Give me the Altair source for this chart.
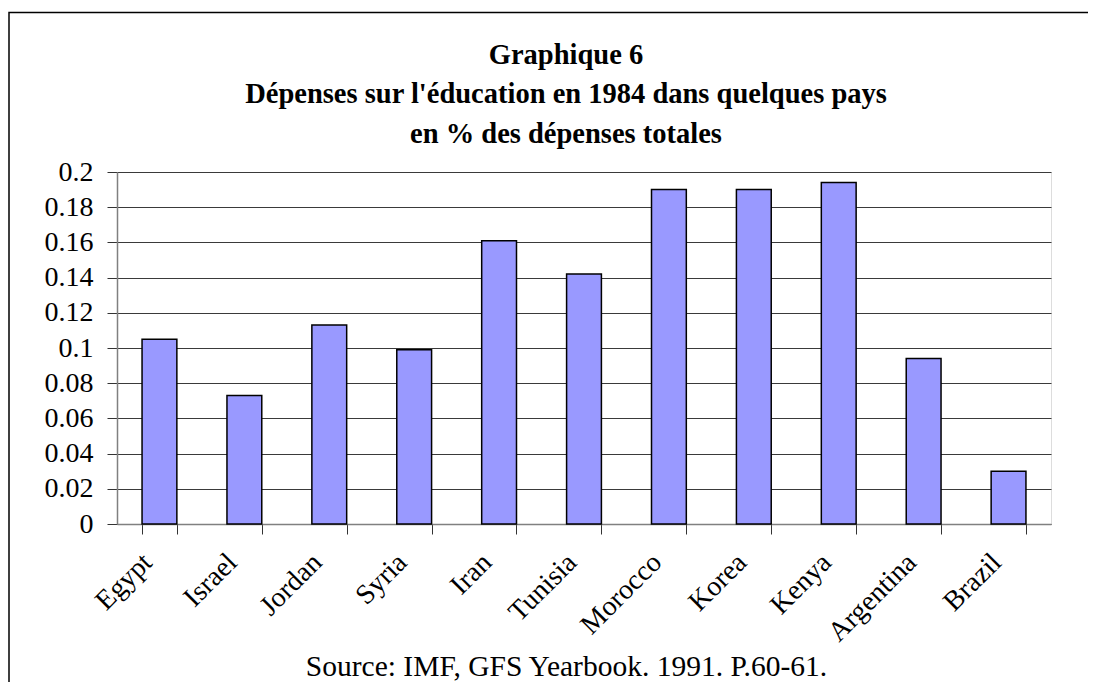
import altair as alt
import pandas as pd

countries = ["Egypt", "Israel", "Jordan", "Syria", "Iran", "Tunisia",
             "Morocco", "Korea", "Kenya", "Argentina", "Brazil"]
values = [0.105, 0.073, 0.113, 0.099, 0.161, 0.142, 0.190, 0.190, 0.194, 0.094, 0.030]
y_ticks = [0, 0.02, 0.04, 0.06, 0.08, 0.1, 0.12, 0.14, 0.16, 0.18, 0.2]

title_lines = ["Graphique 6",
               "Dépenses sur l'éducation en 1984 dans quelques pays",
               "en % des dépenses totales"]
source_text = "Source: IMF, GFS Yearbook. 1991. P.60-61."

df = pd.DataFrame({"country": countries, "value": values})
one = pd.DataFrame({"a": [0]})
FONT = "Liberation Serif, Times New Roman, serif"

bars = alt.Chart(df).mark_bar(
    color="#9999FF", stroke="#000000", strokeWidth=1.5
).encode(
    x=alt.X("country:N", sort=countries,
            scale=alt.Scale(paddingInner=0.59, paddingOuter=0.295),
            axis=alt.Axis(title=source_text, labelAngle=-45, labelAlign="right",
                          labelBaseline="middle",
                          labelFont=FONT, labelFontSize=28, labelColor="#000000",
                          labelPadding=24, labelOffset=-12,
                          tickBand="extent", tickSize=10, tickColor="#333333",
                          domainColor="#808080", domainWidth=1.5,
                          titleFont=FONT, titleFontSize=29.5, titleFontWeight="normal",
                          titleColor="#000000", titleX=449, titleY=151,
                          titleAlign="center", titleBaseline="alphabetic",
                          grid=False)),
    y=alt.Y("value:Q",
            scale=alt.Scale(domain=[0, 0.2], nice=False),
            axis=alt.Axis(title=None, values=y_ticks, format="~g",
                          labelFont=FONT, labelFontSize=28, labelColor="#000000",
                          labelPadding=14, tickSize=10, tickColor="#333333",
                          domainColor="#808080", domainWidth=1.5,
                          grid=True, gridColor="#3a3a3a", gridWidth=1)),
)

frame = alt.Chart(one).mark_rect(
    fill=None, stroke="#000000", strokeWidth=1.5
).encode(
    x=alt.value(-108), x2=alt.value(1000),
    y=alt.value(-159.5), y2=alt.value(600),
)

title_y = [-108, -69, -29]
title_layers = [
    alt.Chart(one).mark_text(
        font=FONT, fontSize=28.5, fontWeight="bold", color="#000000",
        align="center", baseline="alphabetic"
    ).encode(x=alt.value(449), y=alt.value(ty), text=alt.value(line))
    for line, ty in zip(title_lines, title_y)
]

chart = alt.layer(bars, frame, *title_layers).properties(
    width=934, height=352,
    autosize=alt.AutoSizeParams(type="none"),
    padding={"left": 109, "top": 164, "right": 37, "bottom": 158},
).configure_view(
    fill="#C0C0C0", stroke="#808080", strokeWidth=2
).configure(background="#FFFFFF")

chart.save("out.html", embed_options={"renderer": "svg", "actions": False})
